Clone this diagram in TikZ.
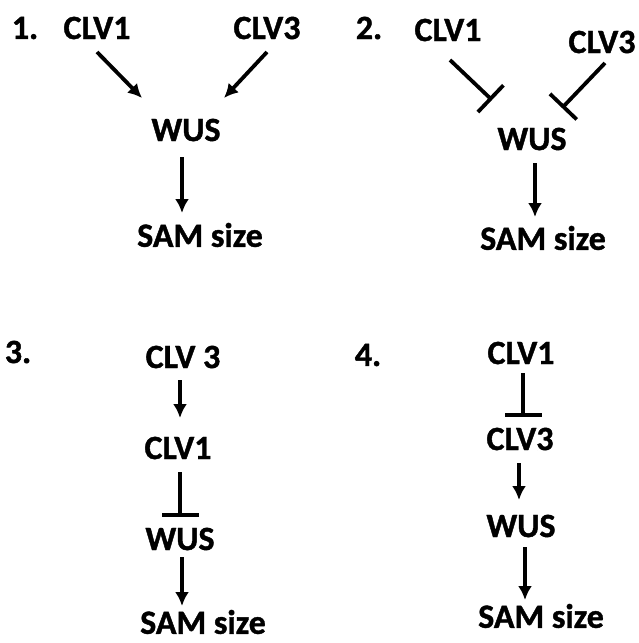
\documentclass[tikz,border=0pt]{standalone}
\usepackage{fontspec}
\setmainfont{Carlito}[BoldFeatures={FakeBold=1.2}]
\usetikzlibrary{arrows.meta,calc}
\begin{document}
\begin{tikzpicture}[x=1pt,y=-1pt,
  lbl/.style={font=\bfseries\fontsize{34}{34}\selectfont, inner sep=0pt},
  act/.style={line width=3.8pt, -{Latex[length=14pt,width=14pt]}},
  inh/.style={line width=3.8pt, -{Bar[width=37pt,line width=3.8pt]}}]
\useasboundingbox (0,0) rectangle (638,643);
% panel 1
\node[lbl] (n1) at (25,28) {1.};
\node[lbl] (c1a) at (97,28) {CLV1};
\node[lbl] (c1b) at (267,28) {CLV3};
\node[lbl] (w1) at (186,130) {WUS};
\node[lbl] (s1) at (200,235) {SAM size};
\draw[act] ($(c1a)+(0,24)$) -- ($(w1)+(-44,-32)$);
\draw[act] ($(c1b)+(0,24)$) -- ($(w1)+(38,-32)$);
\draw[act] ($(w1)+(-4,27)$) -- ($(s1)+(-18,-22)$);
% panel 2
\node[lbl] (n2) at (369,28) {2.};
\node[lbl] (c2a) at (448,30) {CLV1};
\node[lbl] (c2b) at (602,42) {CLV3};
\node[lbl] (w2) at (532,139) {WUS};
\node[lbl] (s2) at (543,238) {SAM size};
\draw[inh] ($(c2a)+(2,30)$) -- ($(w2)+(-40,-39)$);
\draw[inh] ($(c2b)+(3,21)$) -- ($(w2)+(30,-31)$);
\draw[act] ($(w2)+(3,24)$) -- ($(s2)+(-8,-21)$);
% panel 3
\node[lbl] (n3) at (18,352) {3.};
\node[lbl] (c3a) at (183,357) {CLV 3};
\node[lbl] (c3b) at (178,448) {CLV1};
\node[lbl] (w3) at (180,539) {WUS};
\node[lbl] (s3) at (203,622) {SAM size};
\draw[act] ($(c3a)+(-3,23)$) -- ($(c3b)+(2,-30)$);
\draw[inh] ($(c3b)+(2,24)$) -- ($(w3)+(0,-22)$);
\draw[act] ($(w3)+(2,18)$) -- ($(s3)+(-21,-16)$);
% panel 4
\node[lbl] (n4) at (368,355) {4.};
\node[lbl] (c4a) at (521,353) {CLV1};
\node[lbl] (c4b) at (520,439) {CLV3};
\node[lbl] (w4) at (521,526) {WUS};
\node[lbl] (s4) at (541,616) {SAM size};
\draw[inh] ($(c4a)+(2,20)$) -- ($(c4b)+(3,-22)$);
\draw[act] ($(c4b)+(-1,24)$) -- ($(w4)+(-2,-26)$);
\draw[act] ($(w4)+(4,21)$) -- ($(s4)+(-16,-16)$);
\end{tikzpicture}
\end{document}
